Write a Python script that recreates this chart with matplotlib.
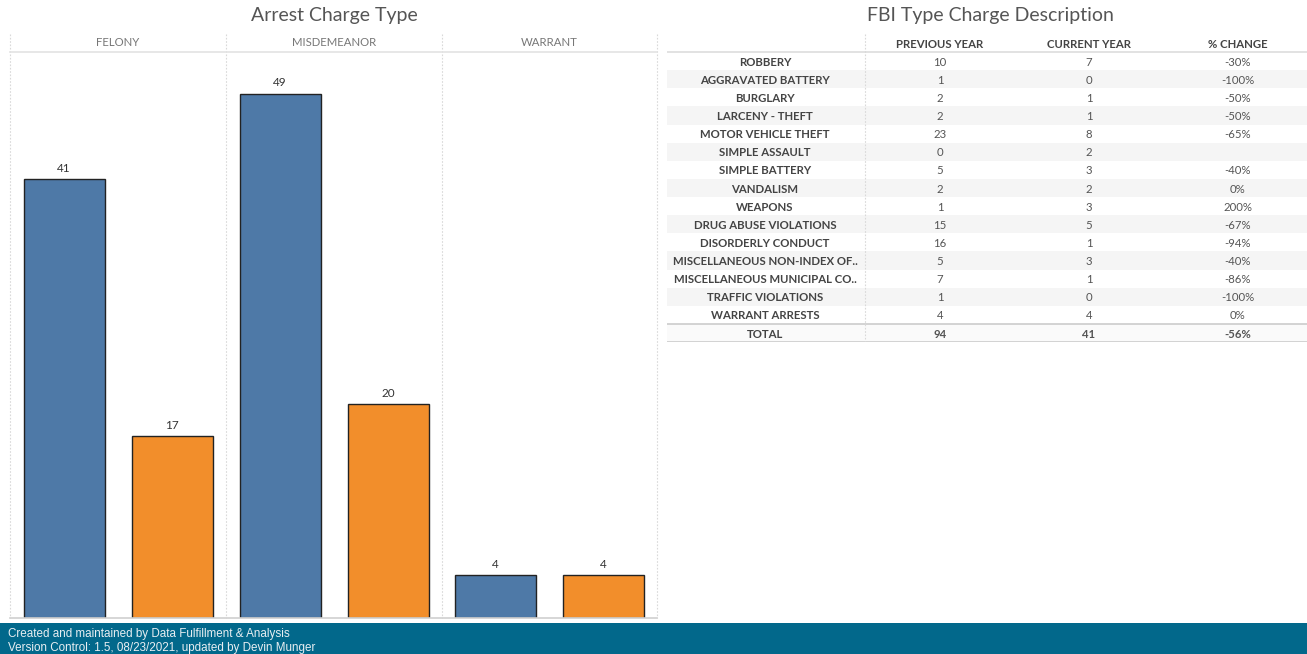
import matplotlib
matplotlib.use("Agg")
import matplotlib.pyplot as plt
from matplotlib.lines import Line2D
from matplotlib.patches import Rectangle

# ---------------- data ----------------
charge_types = ["FELONY", "MISDEMEANOR", "WARRANT"]
previous_year = [41, 49, 4]
current_year = [17, 20, 4]

fbi_types = ["ROBBERY", "AGGRAVATED BATTERY", "BURGLARY", "LARCENY - THEFT",
             "MOTOR VEHICLE THEFT", "SIMPLE ASSAULT", "SIMPLE BATTERY", "VANDALISM",
             "WEAPONS", "DRUG ABUSE VIOLATIONS", "DISORDERLY CONDUCT",
             "MISCELLANEOUS NON-INDEX OF..", "MISCELLANEOUS MUNICIPAL CO..",
             "TRAFFIC VIOLATIONS", "WARRANT ARRESTS"]
fbi_prev = [10, 1, 2, 2, 23, 0, 5, 2, 1, 15, 16, 5, 7, 1, 4]
fbi_curr = [7, 0, 1, 1, 8, 2, 3, 2, 3, 5, 1, 3, 1, 0, 4]
fbi_pct = ["-30%", "-100%", "-50%", "-50%", "-65%", "", "-40%", "0%", "200%",
           "-67%", "-94%", "-40%", "-86%", "-100%", "0%"]
total_row = ["TOTAL", "94", "41", "-56%"]
table_headers = ["", "PREVIOUS YEAR", "CURRENT YEAR", "% CHANGE"]
footer_lines = ["Created and maintained by Data Fulfillment & Analysis",
                "Version Control: 1.5, 08/23/2021, updated by Devin Munger"]

BLUE = "#4e79a7"
ORANGE = "#f28e2b"
GRID = "#d9d9d9"
FONT = "Lato"
TFS = 8.2

W, H = 1307, 654
fig = plt.figure(figsize=(W / 100, H / 100), dpi=100)
fig.patch.set_facecolor("white")


def fx(x):
    return x / W


def fy(y):
    return 1 - y / H


def rect(x0, y0, x1, y1):
    return [fx(x0), fy(y1), fx(x1) - fx(x0), fy(y0) - fy(y1)]


# ---------------- titles ----------------
fig.text(fx(334), fy(15), "Arrest Charge Type", ha="center", va="center",
         fontsize=14, color="#555555", family=FONT)
fig.text(fx(990), fy(15), "FBI Type Charge Description", ha="center", va="center",
         fontsize=14, color="#555555", family=FONT)

# ---------------- bar panels ----------------
panel_edges = [10, 226, 442, 657]
top_hdr, top_plot, bottom = 34, 52, 618
for i, name in enumerate(charge_types):
    x0, x1 = panel_edges[i], panel_edges[i + 1]
    ax = fig.add_axes(rect(x0, top_plot, x1, bottom))
    vals = [previous_year[i], current_year[i]]
    bars = ax.bar([0, 1], vals, width=0.75, color=[BLUE, ORANGE],
                  edgecolor="#222222", linewidth=1.0, zorder=3)
    for b, v in zip(bars, vals):
        ax.text(b.get_x() + b.get_width() / 2, v + 0.5, str(v), ha="center",
                va="bottom", fontsize=8.5, color="#333333", family=FONT)
    ax.set_xlim(-0.5, 1.5)
    ax.set_ylim(0, 52.9)
    ax.axis("off")
    fig.text(fx((x0 + x1) / 2), fy(43), name, ha="center", va="center",
             fontsize=8.2, color="#777777", family=FONT)

# panel separators (dotted)
for xe in panel_edges:
    fig.add_artist(Line2D([fx(xe), fx(xe)], [fy(top_hdr), fy(bottom)],
                          color=GRID, lw=0.8, ls=(0, (1.5, 1.5))))
fig.add_artist(Line2D([fx(10), fx(657)], [fy(top_plot), fy(top_plot)],
                      color="#e3e3e3", lw=1.2))
fig.add_artist(Line2D([fx(10), fx(657)], [fy(bottom), fy(bottom)],
                      color="#d0d0d0", lw=1.2))

# ---------------- table ----------------
tx0, tx1, ty0, ty1 = 667, 1307, 34, 342
nrows = len(fbi_types) + 2
tax = fig.add_axes(rect(tx0, ty0, tx1, ty1))
tax.set_xlim(0, tx1 - tx0)
tax.set_ylim(nrows, 0)
tax.axis("off")
col_x = [98, 273, 422, 571]
sep_x = 198
dy = 0.06

for r in range(len(fbi_types)):
    if r % 2 == 1:
        tax.add_patch(Rectangle((0, r + 1), tx1 - tx0, 1, color="#f5f5f5", lw=0, zorder=0))

for c, h in enumerate(table_headers):
    tax.text(col_x[c], 0.5 + dy, h, ha="center", va="center", fontsize=TFS,
             fontweight="bold", color="#444444", family=FONT)

for r, (lab, p, cu, pc) in enumerate(zip(fbi_types, fbi_prev, fbi_curr, fbi_pct)):
    y = r + 1.5 + dy
    tax.text(col_x[0], y, lab, ha="center", va="center", fontsize=TFS,
             fontweight="bold", color="#444444", family=FONT)
    tax.text(col_x[1], y, str(p), ha="center", va="center", fontsize=TFS,
             color="#555555", family=FONT)
    tax.text(col_x[2], y, str(cu), ha="center", va="center", fontsize=TFS,
             color="#555555", family=FONT)
    tax.text(col_x[3], y, pc, ha="center", va="center", fontsize=TFS,
             color="#555555", family=FONT)

ytot = nrows - 0.5 + dy
tax.add_patch(Rectangle((0, nrows - 1), tx1 - tx0, 1, color="#fafafa", lw=0, zorder=0))
tax.text(col_x[0], ytot, total_row[0], ha="center", va="center", fontsize=TFS,
         fontweight="bold", color="#444444", family=FONT)
for c in range(1, 4):
    tax.text(col_x[c], ytot, total_row[c], ha="center", va="center", fontsize=TFS,
             fontweight="bold", color="#555555", family=FONT)

tax.plot([0, tx1 - tx0], [1, 1], color="#dddddd", lw=1.2)
tax.plot([0, tx1 - tx0], [nrows - 1, nrows - 1], color="#cccccc", lw=1.2)
tax.plot([0, tx1 - tx0], [nrows, nrows], color="#cccccc", lw=1.2)
tax.plot([sep_x, sep_x], [0, nrows], color=GRID, lw=0.8, ls=(0, (1.5, 1.5)))

# ---------------- footer ----------------
fig.add_artist(Rectangle((0, 0), 1, fy(623), transform=fig.transFigure,
                         color="#02688b", lw=0))
fig.text(fx(8), fy(634), footer_lines[0], ha="left", va="center", fontsize=8.4,
         color="#e8eef2", family="Liberation Sans")
fig.text(fx(8), fy(648), footer_lines[1], ha="left", va="center", fontsize=8.4,
         color="#e8eef2", family="Liberation Sans")

fig.savefig("out.png", dpi=100, facecolor="white")
